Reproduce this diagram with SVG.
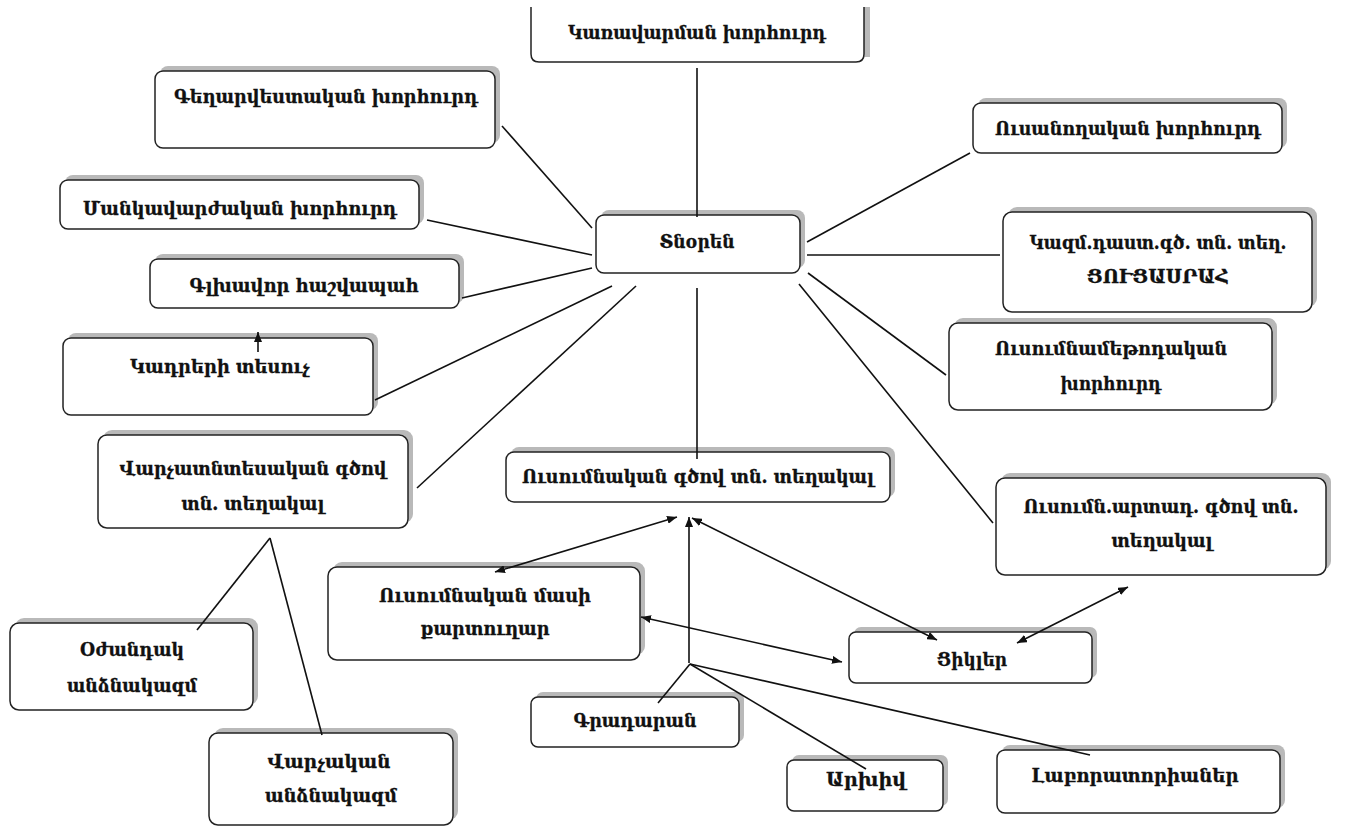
<svg xmlns="http://www.w3.org/2000/svg" width="1345" height="827" viewBox="0 0 1345 827">
<style>
.box{fill:#fff;stroke:#222;stroke-width:1.5}
.sh{fill:#b9b9b9}
.t{font-family:"DejaVu Serif","DejaVu Sans",serif;font-weight:bold;font-size:18px;fill:#111;stroke:#111;stroke-width:0.3;text-anchor:middle}
.ln{stroke:#111;stroke-width:1.6;fill:none}
.ar{marker-end:url(#ah)}
.dar{marker-start:url(#ah);marker-end:url(#ah)}
</style>
<defs>
<marker id="ah" viewBox="0 0 10 8" refX="10" refY="4" markerWidth="10" markerHeight="8" markerUnits="userSpaceOnUse" orient="auto-start-reverse"><path d="M0,0 L10,4 L0,8 z" fill="#111"/></marker>
</defs>
<rect width="1345" height="827" fill="#fff"/>

<g id="n-karavarman">
<rect class="sh" x="864" y="7" width="6" height="50"/>
<path class="box" d="M531,7 V54 Q531,62 539,62 H856 Q864,62 864,54 V7"/>
<text class="t" x="697" y="39" textLength="258" lengthAdjust="spacingAndGlyphs">Կառավարման խորհուրդ</text>
</g>

<g id="n-gegharvestakan">
<rect class="sh" x="160" y="66" width="340" height="77" rx="8"/>
<rect class="box" x="155" y="71" width="340" height="77" rx="8"/>
<text class="t" x="326" y="103" textLength="304" lengthAdjust="spacingAndGlyphs">Գեղարվեստական խորհուրդ</text>
</g>

<g id="n-mankavarzhakan">
<rect class="sh" x="65" y="175" width="359" height="49" rx="8"/>
<rect class="box" x="60" y="180" width="359" height="49" rx="8"/>
<text class="t" x="240" y="215" textLength="314" lengthAdjust="spacingAndGlyphs">Մանկավարժական խորհուրդ</text>
</g>

<g id="n-glkhavor">
<rect class="sh" x="155" y="254" width="309" height="49" rx="8"/>
<rect class="box" x="150" y="259" width="309" height="49" rx="8"/>
<text class="t" x="304" y="292" textLength="229" lengthAdjust="spacingAndGlyphs">Գլխավոր հաշվապահ</text>
</g>

<g id="n-kadreri">
<rect class="sh" x="68" y="333" width="310" height="77" rx="8"/>
<rect class="box" x="63" y="338" width="310" height="77" rx="8"/>
<text class="t" x="220" y="373" textLength="180" lengthAdjust="spacingAndGlyphs">Կադրերի տեսուչ</text>
</g>

<g id="n-tnoren">
<rect class="sh" x="601" y="210" width="204" height="58" rx="8"/>
<rect class="box" x="596" y="215" width="204" height="58" rx="8"/>
<text class="t" x="697" y="248" textLength="75" lengthAdjust="spacingAndGlyphs">Տնօրեն</text>
</g>

<g id="n-usanoghakan">
<rect class="sh" x="978" y="98" width="309" height="50" rx="8"/>
<rect class="box" x="973" y="103" width="309" height="50" rx="8"/>
<text class="t" x="1128" y="135" textLength="266" lengthAdjust="spacingAndGlyphs">Ուսանողական խորհուրդ</text>
</g>

<g id="n-kazm">
<rect class="sh" x="1008" y="207" width="309" height="100" rx="9"/>
<rect class="box" x="1003" y="212" width="309" height="100" rx="9"/>
<text class="t" x="1158" y="249" textLength="257" lengthAdjust="spacingAndGlyphs">Կազմ.դաստ.գծ. տն. տեղ.</text>
<text class="t" x="1158" y="283" textLength="142" lengthAdjust="spacingAndGlyphs">ՑՈՒՑԱՍՐԱՀ</text>
</g>

<g id="n-usumnametodakan">
<rect class="sh" x="954" y="318" width="323" height="87" rx="9"/>
<rect class="box" x="949" y="323" width="323" height="87" rx="9"/>
<text class="t" x="1111" y="355" textLength="232" lengthAdjust="spacingAndGlyphs">Ուսումնամեթոդական</text>
<text class="t" x="1111" y="390" textLength="101" lengthAdjust="spacingAndGlyphs">խորհուրդ</text>
</g>

<g id="n-varchatntesakan">
<rect class="sh" x="103" y="430" width="310" height="93" rx="9"/>
<rect class="box" x="98" y="435" width="310" height="93" rx="9"/>
<text class="t" x="253" y="475" textLength="267" lengthAdjust="spacingAndGlyphs">Վարչատնտեսական գծով</text>
<text class="t" x="253" y="510" textLength="143" lengthAdjust="spacingAndGlyphs">տն. տեղակալ</text>
</g>

<g id="n-usumnakan-gtsov">
<rect class="sh" x="511" y="447" width="384" height="50" rx="8"/>
<rect class="box" x="506" y="452" width="384" height="50" rx="8"/>
<text class="t" x="698" y="483" textLength="352" lengthAdjust="spacingAndGlyphs">Ուսումնական գծով տն. տեղակալ</text>
</g>

<g id="n-usumn-artad">
<rect class="sh" x="1001" y="473" width="330" height="97" rx="9"/>
<rect class="box" x="996" y="478" width="330" height="97" rx="9"/>
<text class="t" x="1161" y="513" textLength="275" lengthAdjust="spacingAndGlyphs">Ուսումն.արտադ. գծով տն.</text>
<text class="t" x="1162" y="547" textLength="101" lengthAdjust="spacingAndGlyphs">տեղակալ</text>
</g>

<g id="n-usumnakan-masi">
<rect class="sh" x="333" y="562" width="312" height="93" rx="9"/>
<rect class="box" x="328" y="567" width="312" height="93" rx="9"/>
<text class="t" x="485" y="602" textLength="212" lengthAdjust="spacingAndGlyphs">Ուսումնական մասի</text>
<text class="t" x="485" y="635" textLength="129" lengthAdjust="spacingAndGlyphs">քարտուղար</text>
</g>

<g id="n-tsikler">
<rect class="sh" x="854" y="627" width="243" height="51" rx="7"/>
<rect class="box" x="849" y="632" width="243" height="51" rx="7"/>
<text class="t" x="972" y="666" textLength="70" lengthAdjust="spacingAndGlyphs">Ցիկլեր</text>
</g>

<g id="n-ozhandak">
<rect class="sh" x="15" y="618" width="243" height="87" rx="9"/>
<rect class="box" x="10" y="623" width="243" height="87" rx="9"/>
<text class="t" x="132" y="656" textLength="104" lengthAdjust="spacingAndGlyphs">Օժանդակ</text>
<text class="t" x="132" y="692" textLength="130" lengthAdjust="spacingAndGlyphs">անձնակազմ</text>
</g>

<g id="n-gradaran">
<rect class="sh" x="536" y="692" width="208" height="50" rx="7"/>
<rect class="box" x="531" y="697" width="208" height="50" rx="7"/>
<text class="t" x="635" y="727" textLength="123" lengthAdjust="spacingAndGlyphs">Գրադարան</text>
</g>

<g id="n-arkhiv">
<rect class="sh" x="792" y="755" width="156" height="51" rx="7"/>
<rect class="box" x="787" y="760" width="156" height="51" rx="7"/>
<text class="t" x="866" y="786" textLength="80" lengthAdjust="spacingAndGlyphs">Արխիվ</text>
</g>

<g id="n-laboratoria">
<rect class="sh" x="1002" y="745" width="283" height="63" rx="8"/>
<rect class="box" x="997" y="750" width="283" height="63" rx="8"/>
<text class="t" x="1135" y="782" textLength="207" lengthAdjust="spacingAndGlyphs">Լաբորատորիաներ</text>
</g>

<g id="n-varchakan">
<rect class="sh" x="214" y="728" width="244" height="92" rx="9"/>
<rect class="box" x="209" y="733" width="244" height="92" rx="9"/>
<text class="t" x="329" y="768" textLength="123" lengthAdjust="spacingAndGlyphs">Վարչական</text>
<text class="t" x="331" y="802" textLength="132" lengthAdjust="spacingAndGlyphs">անձնակազմ</text>
</g>

<g id="connectors">
<line class="ln" x1="697" y1="68" x2="697" y2="217"/>
<line class="ln" x1="502" y1="126" x2="592" y2="228"/>
<line class="ln" x1="427" y1="220" x2="592" y2="255"/>
<line class="ln" x1="462" y1="298" x2="592" y2="268"/>
<line class="ln" x1="375" y1="400" x2="612" y2="286"/>
<line class="ln" x1="417" y1="488" x2="636" y2="286"/>
<line class="ln" x1="697" y1="288" x2="697" y2="459"/>
<line class="ln" x1="807" y1="242" x2="970" y2="153"/>
<line class="ln" x1="807" y1="255" x2="1000" y2="255"/>
<line class="ln" x1="808" y1="273" x2="946" y2="375"/>
<line class="ln" x1="799" y1="284" x2="993" y2="523"/>
<line class="ln" x1="270" y1="538" x2="197" y2="630"/>
<line class="ln" x1="270" y1="538" x2="322" y2="735"/>
<line class="ln dar" x1="495" y1="572" x2="677" y2="517"/>
<line class="ln ar" x1="689" y1="663" x2="689" y2="517"/>
<line class="ln dar" x1="692" y1="518" x2="937" y2="640"/>
<line class="ln dar" x1="641" y1="617" x2="842" y2="662"/>
<line class="ln dar" x1="1017" y1="643" x2="1128" y2="587"/>
<line class="ln" x1="690" y1="664" x2="658" y2="703"/>
<line class="ln" x1="690" y1="664" x2="866" y2="769"/>
<line class="ln" x1="690" y1="664" x2="1090" y2="755"/>
<line class="ln ar" x1="258" y1="352" x2="258" y2="332"/>
</g>
</svg>
